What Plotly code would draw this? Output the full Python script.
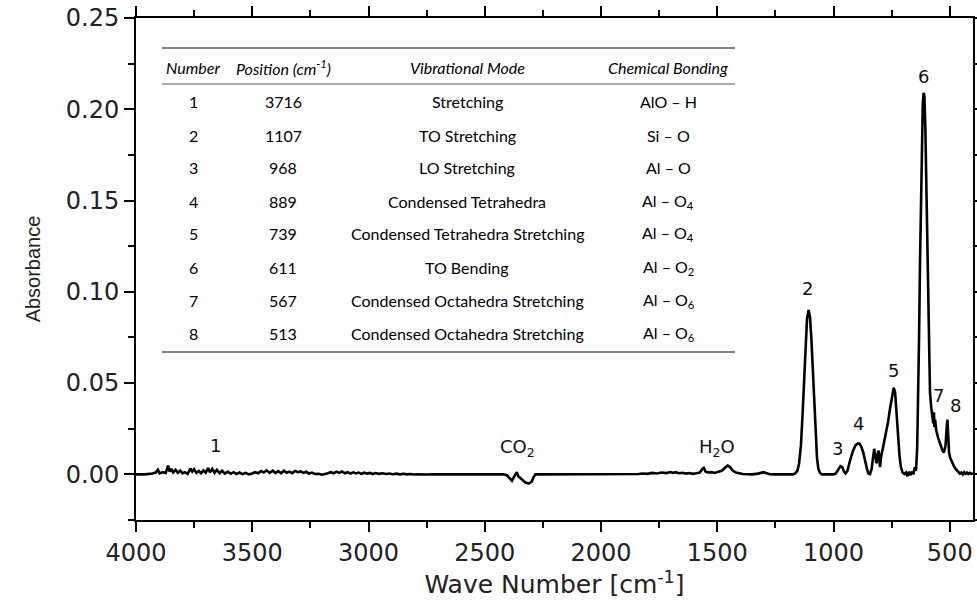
import plotly.graph_objects as go

# ---------------- spectrum ----------------
wavenumber = [
    4000, 3960, 3930, 3915, 3906, 3898, 3885, 3872, 3862, 3855, 3848, 3840, 3830, 3820,
    3810, 3800, 3790, 3778, 3766, 3758, 3750, 3740, 3730, 3720, 3710, 3700, 3690, 3682,
    3672, 3662, 3652, 3640, 3630, 3618, 3605, 3592, 3580, 3568, 3555, 3542, 3528, 3515,
    3500, 3488, 3475, 3462, 3450, 3438, 3425, 3412, 3400, 3388, 3376, 3364, 3352, 3340,
    3328, 3316, 3304, 3292, 3280, 3268, 3256, 3244, 3230, 3215, 3200, 3188, 3175, 3162,
    3150, 3138, 3126, 3114, 3102, 3090, 3078, 3066, 3054, 3042, 3030, 3018, 3006, 2994,
    2982, 2970, 2955, 2940, 2925, 2910, 2895, 2880, 2865, 2850, 2835, 2820, 2805, 2790,
    2775, 2760, 2745, 2730, 2710, 2600, 2500, 2420, 2405, 2392, 2383, 2375, 2368, 2362,
    2356, 2348, 2338, 2325, 2310, 2298, 2290, 2282, 2270, 2100, 2000, 1900, 1880, 1860,
    1840, 1820, 1800, 1780, 1760, 1740, 1720, 1700, 1690, 1680, 1665, 1650, 1635, 1620,
    1605, 1590, 1575, 1565, 1558, 1550, 1540, 1525, 1510, 1495, 1480, 1468, 1455, 1445,
    1435, 1420, 1405, 1390, 1370, 1350, 1325, 1310, 1300, 1290, 1275, 1250, 1200, 1175,
    1165, 1155, 1148, 1140, 1133, 1126, 1120, 1114, 1107, 1101, 1095, 1089, 1083, 1077,
    1071, 1065, 1058, 1050, 1000, 990, 980, 970, 962, 955, 948, 940, 928, 916,
    905, 895, 888, 880, 872, 864, 856, 850, 843, 836, 830, 825, 820, 815,
    810, 806, 800, 795, 788, 780, 772, 765, 757, 748, 741, 735, 728, 722,
    716, 710, 703, 695, 688, 682, 676, 670, 664, 656, 650, 645, 640, 636,
    632, 628, 624, 620, 616, 612, 609, 605, 601, 597, 593, 589, 585, 580,
    575, 571, 568, 566, 563, 558, 550, 540, 531, 525, 518, 513, 510, 507,
    503, 498, 492, 486, 480, 474, 468, 462, 456, 450, 444, 438, 432, 426,
    420, 414, 408, 400,
]
absorbance = [
    0.0000, 0.0000, 0.0005, 0.0010, 0.0025, 0.0005, 0.0012, 0.0008, 0.0048, 0.0015, 0.0030, 0.0010, 0.0025, 0.0008,
    0.0020, 0.0005, 0.0012, 0.0003, 0.0032, 0.0015, 0.0028, 0.0008, 0.0018, 0.0006, 0.0022, 0.0010, 0.0035, 0.0012,
    0.0030, 0.0008, 0.0025, 0.0006, 0.0020, 0.0004, 0.0015, 0.0003, 0.0012, 0.0002, 0.0010, 0.0001, 0.0008, 0.0000,
    0.0005, 0.0012, 0.0006, 0.0018, 0.0010, 0.0022, 0.0008, 0.0020, 0.0007, 0.0018, 0.0006, 0.0020, 0.0009, 0.0015,
    0.0007, 0.0019, 0.0012, 0.0016, 0.0008, 0.0014, 0.0004, 0.0010, 0.0002, 0.0003, -0.0002, 0.0000, 0.0006, 0.0012,
    0.0006, 0.0015, 0.0008, 0.0016, 0.0006, 0.0012, 0.0004, 0.0011, 0.0005, 0.0010, 0.0003, 0.0009, 0.0004, 0.0008,
    0.0002, 0.0007, 0.0003, 0.0006, 0.0002, 0.0005, 0.0001, 0.0004, 0.0000, 0.0003, 0.0000, 0.0002, -0.0001, 0.0001,
    -0.0001, 0.0001, -0.0001, 0.0000, 0.0000, 0.0000, 0.0000, 0.0000, -0.0005, -0.0025, -0.0035, -0.0015, 0.0005, 0.0012,
    -0.0010, -0.0020, -0.0030, -0.0045, -0.0050, -0.0040, -0.0015, 0.0000, 0.0000, 0.0000, 0.0000, 0.0002, 0.0001, 0.0004,
    0.0002, 0.0005, 0.0003, 0.0008, 0.0005, 0.0010, 0.0007, 0.0013, 0.0008, 0.0012, 0.0006, 0.0009, 0.0004, 0.0007,
    0.0003, 0.0006, 0.0010, 0.0028, 0.0035, 0.0015, 0.0010, 0.0012, 0.0008, 0.0015, 0.0020, 0.0035, 0.0048, 0.0040,
    0.0022, 0.0010, 0.0004, 0.0002, 0.0001, 0.0000, 0.0004, 0.0010, 0.0012, 0.0007, 0.0001, 0.0000, 0.0000, 0.0000,
    0.0005, 0.0020, 0.0060, 0.0160, 0.0330, 0.0540, 0.0720, 0.0850, 0.0900, 0.0860, 0.0740, 0.0570, 0.0380, 0.0210,
    0.0090, 0.0030, 0.0008, 0.0000, 0.0000, 0.0005, 0.0025, 0.0045, 0.0040, 0.0015, 0.0005, 0.0020, 0.0080, 0.0130,
    0.0160, 0.0170, 0.0168, 0.0150, 0.0120, 0.0070, 0.0030, 0.0005, 0.0002, 0.0030, 0.0100, 0.0140, 0.0100, 0.0060,
    0.0110, 0.0130, 0.0040, 0.0100, 0.0140, 0.0190, 0.0230, 0.0290, 0.0360, 0.0440, 0.0475, 0.0450, 0.0340, 0.0210,
    0.0100, 0.0040, 0.0010, 0.0002, 0.0010, -0.0010, 0.0015, -0.0005, 0.0010, 0.0005, 0.0040, 0.0020, 0.0150, 0.0400,
    0.0750, 0.1150, 0.1550, 0.1850, 0.2030, 0.2090, 0.2070, 0.1900, 0.1600, 0.1200, 0.0850, 0.0580, 0.0450, 0.0370,
    0.0320, 0.0280, 0.0340, 0.0260, 0.0300, 0.0240, 0.0200, 0.0160, 0.0130, 0.0120, 0.0160, 0.0260, 0.0300, 0.0220,
    0.0120, 0.0090, 0.0070, 0.0055, 0.0040, 0.0028, 0.0018, 0.0010, 0.0004, 0.0010, 0.0000, 0.0012, 0.0003, 0.0010,
    0.0002, 0.0008, 0.0003, 0.0005,
]

# ---------------- peak labels ----------------
peak_labels = ["1", "2", "3", "4", "5", "6", "7", "8", "CO<sub>2</sub>", "H<sub>2</sub>O"]
peak_label_x = [3660, 1111, 982, 891, 741, 612, 548, 475, 2358, 1502]
peak_label_y = [0.0157, 0.1020, 0.0140, 0.0277, 0.0568, 0.2180, 0.0430, 0.0376, 0.0146, 0.0146]

# ---------------- inset table ----------------
table_header = ["Number", "Position (cm<sup>-1</sup>)", "Vibrational Mode", "Chemical Bonding"]
table_number = ["1", "2", "3", "4", "5", "6", "7", "8"]
table_position = ["3716", "1107", "968", "889", "739", "611", "567", "513"]
table_mode = ["Stretching", "TO Stretching", "LO Stretching", "Condensed Tetrahedra",
              "Condensed Tetrahedra Stretching", "TO Bending",
              "Condensed Octahedra Stretching", "Condensed Octahedra Stretching"]
table_bond = ["AlO – H", "Si – O", "Al – O", "Al – O<sub>4</sub>", "Al – O<sub>4</sub>",
              "Al – O<sub>2</sub>", "Al – O<sub>6</sub>", "Al – O<sub>6</sub>"]

# ---------------- layout geometry ----------------
W, H = 977, 601
ML, MR, MT, MB = 136, 4, 18, 81
PW, PH = W - ML - MR, H - MT - MB


def px_x(px):
    return (px - ML) / PW


def px_y(py):
    return (H - MB - py) / PH


fig = go.Figure()
fig.add_trace(go.Scatter(
    x=wavenumber, y=absorbance, mode="lines",
    line=dict(color="black", width=2.6), showlegend=False, hoverinfo="skip",
))

annotations = []
for t, x, y in zip(peak_labels, peak_label_x, peak_label_y):
    annotations.append(dict(x=x, y=y, xref="x", yref="y", text=t, showarrow=False,
                            font=dict(family="DejaVu Sans", size=18, color="#111")))

col_x = [193, 283, 467, 668]
tfont = dict(family="Lato", size=16, color="black")
for cx, t in zip(col_x, table_header):
    annotations.append(dict(x=px_x(cx), y=px_y(67), xref="paper", yref="paper",
                            text="<i>" + t + "</i>", showarrow=False, font=tfont,
                            xanchor="center", yanchor="middle"))
row_y0, row_dy = 102, 33
for i in range(len(table_number)):
    ry = px_y(row_y0 + i * row_dy)
    for cx, col in zip(col_x, [table_number, table_position, table_mode, table_bond]):
        annotations.append(dict(x=px_x(cx), y=ry, xref="paper", yref="paper",
                                text=col[i], showarrow=False, font=tfont,
                                xanchor="center", yanchor="middle"))

shapes = []
for ly, lw in [(48, 1.6), (84, 1.2), (352, 1.6)]:
    shapes.append(dict(type="line", xref="paper", yref="paper",
                       x0=px_x(162), x1=px_x(735), y0=px_y(ly), y1=px_y(ly),
                       line=dict(color="#555", width=lw)))

axis_common = dict(
    showline=True, linecolor="black", linewidth=2, mirror="ticks",
    ticks="outside", ticklen=10, tickwidth=2, tickcolor="black",
    showgrid=False, zeroline=False, automargin=False,
    tickfont=dict(family="DejaVu Sans", size=24, color="#222"),
)

fig.update_layout(
    width=W, height=H, autosize=False,
    margin=dict(l=ML, r=MR, t=MT, b=MB, pad=0),
    paper_bgcolor="white", plot_bgcolor="white",
    xaxis=dict(range=[4000, 400], dtick=500, tick0=0,
               minor=dict(dtick=250, ticklen=6, tickwidth=2, ticks="outside", tickcolor="black"),
               title=dict(text="Wave Number [cm<sup>-1</sup>]", standoff=4,
                          font=dict(family="DejaVu Sans", size=25, color="#222")),
               **axis_common),
    yaxis=dict(range=[-0.025, 0.25], dtick=0.05, tick0=0, tickformat=".2f",
               minor=dict(dtick=0.025, ticklen=6, tickwidth=2, ticks="outside", tickcolor="black"),
               title=dict(text="Absorbance", standoff=20,
                          font=dict(family="Liberation Sans Narrow, Liberation Sans", size=20, color="#222")),
               **axis_common),
    annotations=annotations,
    shapes=shapes,
)

fig.write_html("out.html")
